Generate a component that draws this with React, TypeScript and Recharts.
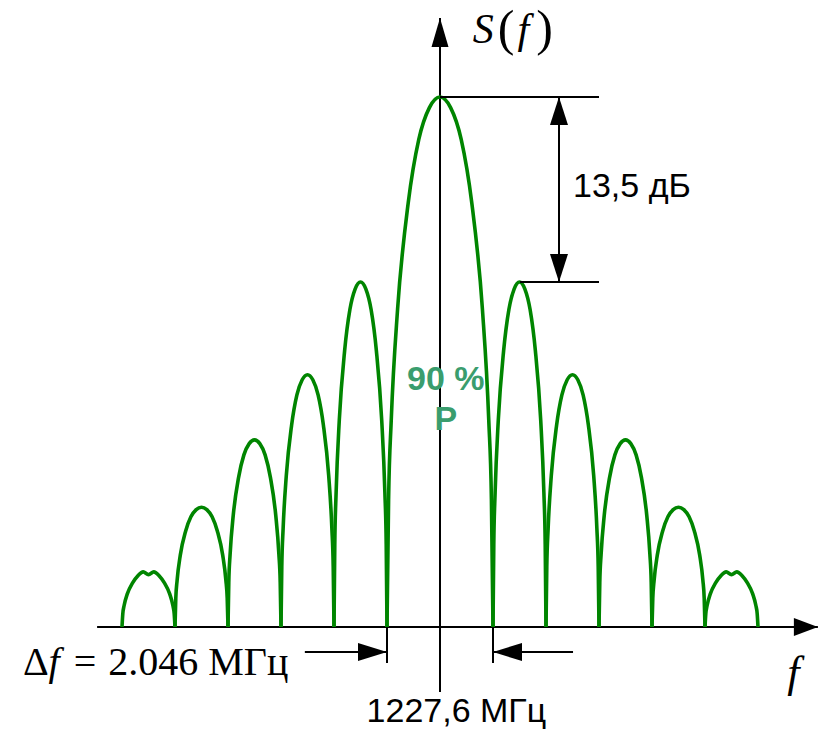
import { LineChart, Line, XAxis, YAxis, ReferenceLine, ReferenceDot } from 'recharts';

// lobe boundaries (zeros of the spectrum), in units of Δf/2 from the carrier
const zeros = [-6, -5, -4, -3, -2, -1, 1, 2, 3, 4, 5, 6];
// peak height of each lobe, main lobe = 100
const peakHeights = [10.4, 22.6, 35.3, 47.6, 65.1, 100, 65.1, 47.6, 35.3, 22.6, 10.4];
// shape of one lobe: position across lobe -> fraction of peak
const lobePos = [0, 0.015, 0.04, 0.1, 0.2, 0.3, 0.4, 0.5, 0.6, 0.7, 0.8, 0.9, 0.96, 0.985, 1];
const lobeShape = [0, 0.24, 0.39, 0.6, 0.8, 0.92, 0.98, 1, 0.98, 0.92, 0.8, 0.6, 0.39, 0.24, 0];
// outermost lobes have a small notch on top
const edgeLobeShape = [0, 0.24, 0.39, 0.6, 0.8, 0.93, 1, 0.95, 1, 0.93, 0.8, 0.6, 0.39, 0.24, 0];

const lobes = peakHeights.map((h, i) => {
  const a = zeros[i];
  const b = zeros[i + 1];
  const shape = i === 0 || i === peakHeights.length - 1 ? edgeLobeShape : lobeShape;
  return lobePos.map((p, k) => ({ x: a + (b - a) * p, y: h * shape[k] }));
});

const X_DOMAIN: [number, number] = [-440 / 53, 381 / 53];
const Y_DOMAIN: [number, number] = [-105 / 5.3, 627 / 5.3];

const SERIF = "'Liberation Serif', 'Times New Roman', serif";
const SANS = "'Liberation Sans', Arial, sans-serif";

function arrow(start: boolean, end: boolean, len = 28, half = 9) {
  return (p: any) => {
    const { x1, y1, x2, y2 } = p;
    const head = (tx: number, ty: number, fx: number, fy: number) => {
      const d = Math.hypot(tx - fx, ty - fy) || 1;
      const ux = (tx - fx) / d;
      const uy = (ty - fy) / d;
      const bx = tx - ux * len;
      const by = ty - uy * len;
      return `${tx},${ty} ${bx - uy * half},${by + ux * half} ${bx + uy * half},${by - ux * half}`;
    };
    return (
      <g>
        <line x1={x1} y1={y1} x2={x2} y2={y2} stroke="#000" strokeWidth={2} />
        {end && <polygon points={head(x2, y2, x1, y1)} fill="#000" />}
        {start && <polygon points={head(x1, y1, x2, y2)} fill="#000" />}
      </g>
    );
  };
}

const plain = (p: any) => (
  <line x1={p.x1} y1={p.y1} x2={p.x2} y2={p.y2} stroke="#000" strokeWidth={2} />
);

function label(content: any, style: any) {
  return (p: any) => (
    <text x={p.cx} y={p.cy} style={style}>
      {content}
    </text>
  );
}

export default function App() {
  return (
    <div style={{ position: 'absolute', left: 0, top: 0, background: '#fff' }}>
      <LineChart width={821} height={732} margin={{ top: 0, right: 0, bottom: 0, left: 0 }}>
        <XAxis type="number" dataKey="x" domain={X_DOMAIN} allowDataOverflow hide />
        <YAxis type="number" domain={Y_DOMAIN} allowDataOverflow hide />

        {/* axes */}
        <ReferenceLine segment={[{ x: -6.47, y: 0 }, { x: 7.13, y: 0 }]} shape={arrow(false, true, 24, 9)} />
        <ReferenceLine segment={[{ x: 0, y: -12.26 }, { x: 0, y: 114.9 }]} shape={arrow(false, true, 29, 8.5)} />

        {lobes.map((pts, i) => (
          <Line
            key={i}
            data={pts}
            dataKey="y"
            type="monotone"
            stroke="#008500"
            strokeWidth={3.6}
            dot={false}
            activeDot={false}
            isAnimationActive={false}
          />
        ))}

        {/* 13,5 dB marker */}
        <ReferenceLine segment={[{ x: 0, y: 100 }, { x: 3.0, y: 100 }]} shape={plain} />
        <ReferenceLine segment={[{ x: 1.51, y: 65.1 }, { x: 3.0, y: 65.1 }]} shape={plain} />
        <ReferenceLine segment={[{ x: 2.245, y: 65.1 }, { x: 2.245, y: 100 }]} shape={arrow(true, true, 28, 9)} />

        {/* Δf marker */}
        <ReferenceLine segment={[{ x: -1, y: 0 }, { x: -1, y: -6.8 }]} shape={plain} />
        <ReferenceLine segment={[{ x: 1, y: 0 }, { x: 1, y: -6.8 }]} shape={plain} />
        <ReferenceLine segment={[{ x: -2.55, y: -4.72 }, { x: -1, y: -4.72 }]} shape={arrow(false, true, 29, 9)} />
        <ReferenceLine segment={[{ x: 2.51, y: -4.72 }, { x: 1, y: -4.72 }]} shape={arrow(false, true, 29, 9)} />

        {/* texts */}
        <ReferenceDot
          x={0.62}
          y={110.2}
          shape={label(
            <>
              <tspan style={{ fontStyle: 'italic' }}>S</tspan>
              <tspan dx={4} dy={2} style={{ fontSize: 50 }}>(</tspan>
              <tspan dx={3} dy={-2} style={{ fontStyle: 'italic' }}>f</tspan>
              <tspan dx={7} dy={2} style={{ fontSize: 50 }}>)</tspan>
            </>,
            { fontFamily: SERIF, fontSize: 42, fill: '#000' }
          )}
        />
        <ReferenceDot
          x={6.55}
          y={-11.3}
          shape={label('f', { fontFamily: SERIF, fontSize: 44, fontStyle: 'italic', fill: '#000' })}
        />
        <ReferenceDot
          x={-7.87}
          y={-9.06}
          shape={label(
            <>
              <tspan>Δ</tspan>
              <tspan style={{ fontStyle: 'italic' }}>f</tspan>
              <tspan dx={14}>=</tspan>
              <tspan dx={12}>2.046 МГц</tspan>
            </>,
            { fontFamily: SERIF, fontSize: 40, fill: '#000' }
          )}
        />
        <ReferenceDot
          x={0.31}
          y={-18.0}
          shape={label('1227,6 МГц', { fontFamily: SANS, fontSize: 34, textAnchor: 'middle', fill: '#000' })}
        />
        <ReferenceDot
          x={2.51}
          y={81.1}
          shape={label('13,5 дБ', { fontFamily: SANS, fontSize: 34, fill: '#000' })}
        />
        <ReferenceDot
          x={0.11}
          y={44.7}
          shape={label('90 %', {
            fontFamily: SANS,
            fontSize: 34,
            fontWeight: 'bold',
            textAnchor: 'middle',
            fill: '#3a9d6e',
          })}
        />
        <ReferenceDot
          x={0.11}
          y={37.2}
          shape={label('P', {
            fontFamily: SANS,
            fontSize: 34,
            fontWeight: 'bold',
            textAnchor: 'middle',
            fill: '#3a9d6e',
          })}
        />
      </LineChart>
    </div>
  );
}
